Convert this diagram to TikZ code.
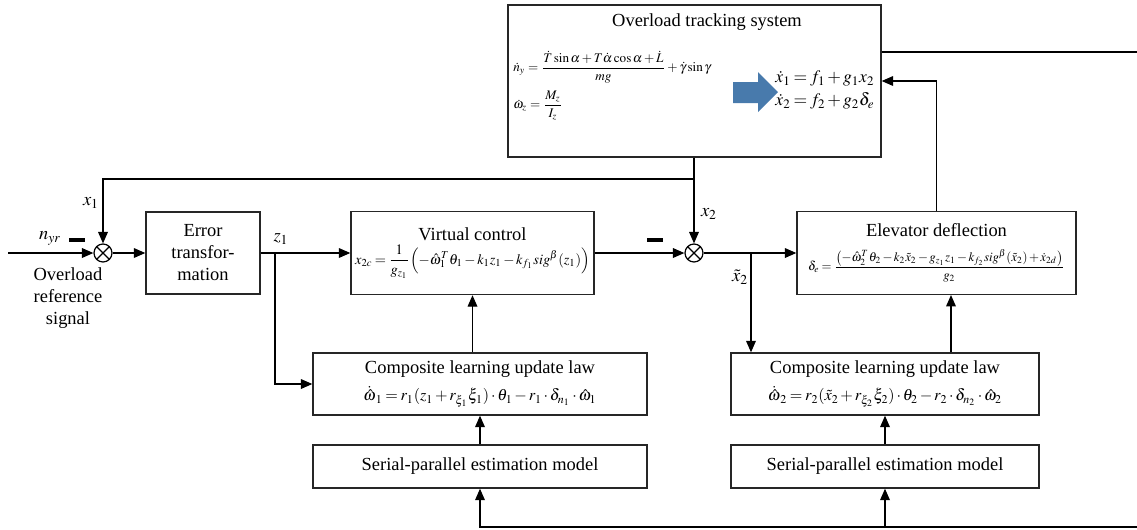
\documentclass[tikz,border=0pt]{standalone}
\usepackage{mathptmx}
\usepackage{fontspec}
\setmainfont{Liberation Serif}
\usetikzlibrary{arrows.meta, positioning}
\definecolor{flowblue}{RGB}{72,122,172}
% tighter spacing round relations and binary operators
\newcommand{\tightmath}{\medmuskip=2mu plus 1mu minus 1mu\thickmuskip=3mu plus 2mu}

\begin{document}
\begin{tikzpicture}[x=0.02cm, y=-0.02cm, line width=0.7pt,
        >={Triangle[length=6.5pt, width=5.5pt]},
        font=\rmfamily\fontsize{10.5}{12.5}\selectfont\tightmath,
        block/.style={draw=black!85, line width=0.8pt, align=center, inner sep=2pt},
        sumpt/.style={draw, circle, minimum size=0.36cm, inner sep=0pt,
            path picture={\draw (path picture bounding box.center) +(45:0.3cm) -- +(225:0.3cm)
                (path picture bounding box.center) +(135:0.3cm) -- +(-45:0.3cm);}},
        bar/.style={inner sep=0pt}]
    \useasboundingbox (0,0) rectangle (1137,529);

    % plant
    \node[block, minimum width=7.46cm, minimum height=3.04cm] (sys) at (694.5,81) {};
    \node (systitle) at (707,22) {Overload tracking system};
    \node[anchor=west, inner sep=1pt, font=\fontsize{7.5}{9}\selectfont] (ny) at (511,67)
        {$\displaystyle \dot n_y=\frac{\dot T\sin\alpha+T\dot\alpha\cos\alpha+\dot L}{mg}+\dot\gamma\sin\gamma$};
    \node[anchor=west, inner sep=1pt, font=\fontsize{7.5}{9}\selectfont] (wz) at (511,106)
        {$\displaystyle \dot\omega_z=\frac{M_z}{I_z}$};
    \fill[flowblue] (733,82) -- (758,82) -- (758,72) -- (778,92) -- (758,112) -- (758,103) -- (733,103) -- cycle;
    \node[align=left, font=\fontsize{10}{13}\selectfont\tightmath] (xdot) at (825,90)
        {$\dot x_1=f_1+g_1x_2$\\$\dot x_2=f_2+g_2\delta_e$};

    % controller blocks
    \node[block, minimum width=2.28cm, minimum height=1.64cm] (err) at (203,253) {Error\\transfor-\\mation};
    \node[block, minimum width=4.86cm, minimum height=1.66cm] (vc) at (472.5,253)
        {Virtual control\\[1pt]
         {\fontsize{8.2}{10}\selectfont\tightmath$\displaystyle x_{2c}=\frac{1}{g_{z_1}}\Bigl(-\hat\omega_1^T\theta_1-k_1z_1-k_{f_1}sig^\beta(z_1)\Bigr)$}};
    \node[block, minimum width=5.58cm, minimum height=1.66cm] (elev) at (936.5,253)
        {Elevator deflection\\[7pt]
         {\fontsize{7.3}{9}\selectfont\tightmath$\displaystyle \delta_e=\frac{\bigl(-\hat\omega_2^T\theta_2-k_2\tilde x_2-g_{z_1}z_1-k_{f_2}sig^\beta(\tilde x_2)+\dot x_{2d}\bigr)}{g_2}$}};
    \node[block, minimum width=6.68cm, minimum height=1.24cm] (comp1) at (480,384)
        {Composite learning update law\\[3pt]
         {\fontsize{9.2}{11}\selectfont\tightmath$\dot{\hat\omega}_1=r_1(z_1+r_{\xi_1}\xi_1)\cdot\theta_1-r_1\cdot\delta_{n_1}\cdot\hat\omega_1$}};
    \node[block, minimum width=6.16cm, minimum height=1.24cm] (comp2) at (885,384)
        {Composite learning update law\\[3pt]
         {\fontsize{9.2}{11}\selectfont\tightmath$\dot{\hat\omega}_2=r_2(\tilde x_2+r_{\xi_2}\xi_2)\cdot\theta_2-r_2\cdot\delta_{n_2}\cdot\hat\omega_2$}};
    \node[block, minimum width=6.68cm, minimum height=0.86cm] (sp1) at (480,466.5) {Serial-parallel estimation model};
    \node[block, minimum width=6.16cm, minimum height=0.86cm] (sp2) at (885,466.5) {Serial-parallel estimation model};

    % summing points
    \node[sumpt] (s1) at (103,253) {};
    \node[sumpt] (s2) at (694,253) {};
    \node[bar] (m1) at (77,240) {\rule{9pt}{2pt}};
    \node[bar] (m2) at (655,240) {\rule{9pt}{2pt}};

    \coordinate (ref) at (8,253);
    \coordinate (zb) at (275,253);
    \coordinate (xb) at (751,253);
    \coordinate (fb) at (694,179);
    \coordinate (upd) at (951,295);
    \coordinate (top) at (1137,52);
    \coordinate (bot) at (1137,527);

    % signals
    \draw[->] (ref) -- (s1);
    \draw[->] (s1) -- (err);
    \draw[->] (err) -- (vc);
    \draw[->] (zb) |- (comp1.west);
    \draw[->] (vc) -- (s2);
    \draw[->] (s2) -- (elev);
    \draw[->] (xb) -- (xb |- comp2.north);
    \draw[->] (sys.south -| s2) -- (s2);
    \draw[->] (fb) -| (s1);
    \draw[->] (comp1.north -| vc) -- (vc.south);
    \draw[->] (comp2.north -| upd) -- (upd);
    \draw[->] (sp1) -- (comp1);
    \draw[->] (sp2) -- (comp2);
    \draw[->] (bot) -| (sp1);
    \draw[->] (bot -| sp2) -- (sp2);
    \draw[->] (elev.north) |- (sys.east);
    \draw (sys.east |- top) -- (top);

    % labels
    \node (nyr) at (50,238) {$n_{yr}$};
    \node[align=center] (reflbl) at (68,298) {Overload\\reference\\signal};
    \node (x1) at (91,203) {$x_1$};
    \node (x2) at (709,214) {$x_2$};
    \node (z1) at (281,239) {$z_1$};
    \node (xt2) at (740,277) {$\tilde x_2$};
\end{tikzpicture}
\end{document}
